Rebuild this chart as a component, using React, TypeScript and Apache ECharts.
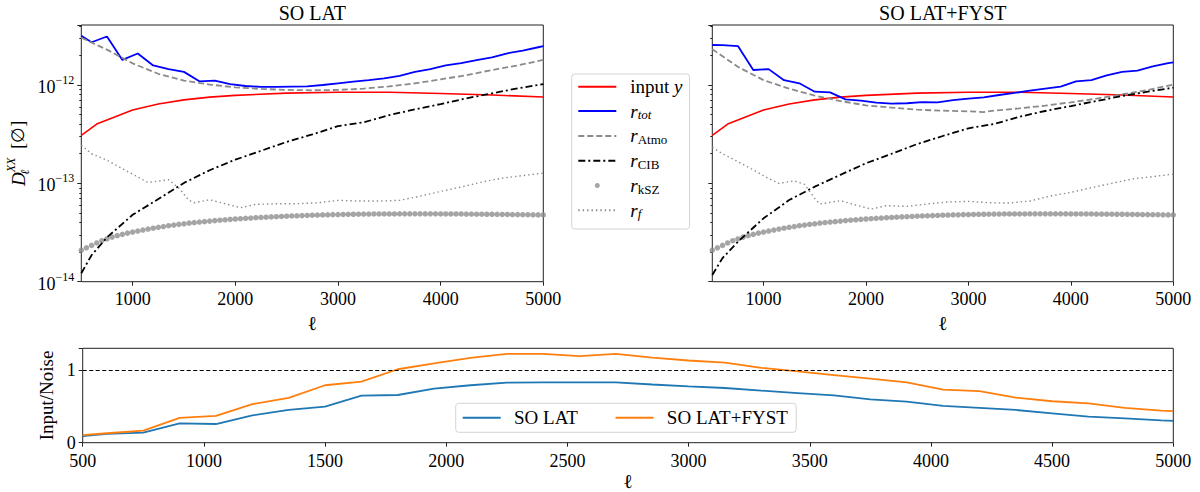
import React, { useEffect, useRef } from 'react';
import * as echarts from 'echarts';

const FONT = "'Liberation Serif', 'DejaVu Serif', serif";

// ---- top panels: D_ell^XX ----
const ellInput = [500, 650, 750, 1000, 1250, 1500, 1750, 2000, 2500, 3000, 3500, 4000, 4500, 5000];
const inputY = [3.08e-13, 4.01e-13, 4.40e-13, 5.56e-13, 6.41e-13, 7.06e-13, 7.52e-13, 7.85e-13, 8.26e-13, 8.45e-13, 8.45e-13, 8.20e-13, 7.91e-13, 7.55e-13];

// binned multipoles (also used by the Input/Noise panel)
const ellBins = [500, 600, 750, 900, 1050, 1200, 1350, 1500, 1650, 1800, 1950, 2100, 2250, 2400, 2550, 2700,
  2850, 3000, 3150, 3300, 3450, 3600, 3750, 3900, 4050, 4200, 4350, 4500, 4650, 4800, 4950, 5000];
const rTotLat = [3.16e-12, 2.72e-12, 3.11e-12, 1.80e-12, 2.09e-12, 1.58e-12, 1.45e-12, 1.36e-12, 1.09e-12, 1.11e-12,
  1.02e-12, 9.77e-13, 9.55e-13, 9.55e-13, 9.62e-13, 9.68e-13, 1.00e-12, 1.04e-12, 1.08e-12, 1.12e-12,
  1.17e-12, 1.24e-12, 1.36e-12, 1.45e-12, 1.58e-12, 1.67e-12, 1.79e-12, 1.91e-12, 2.10e-12, 2.24e-12, 2.42e-12, 2.48e-12];
const rTotFyst = [2.55e-12, 2.54e-12, 2.49e-12, 1.42e-12, 1.45e-12, 1.12e-12, 1.04e-12, 8.55e-13, 8.41e-13, 7.14e-13,
  6.92e-13, 6.61e-13, 6.46e-13, 6.52e-13, 6.71e-13, 6.67e-13, 7.03e-13, 7.26e-13, 7.50e-13, 7.91e-13,
  8.30e-13, 8.75e-13, 9.18e-13, 9.62e-13, 1.09e-12, 1.12e-12, 1.25e-12, 1.36e-12, 1.40e-12, 1.55e-12, 1.67e-12, 1.70e-12];

const ellAtmoLat = [500, 750, 1000, 1250, 1500, 1750, 2000, 2250, 2500, 2750, 3000, 3250, 3500, 3750, 4000, 4250, 4500, 4750, 5000];
const rAtmoLat = [3.02e-12, 2.29e-12, 1.66e-12, 1.30e-12, 1.11e-12, 1.01e-12, 9.46e-13, 9.12e-13, 8.91e-13, 8.83e-13,
  8.91e-13, 9.18e-13, 9.68e-13, 1.04e-12, 1.14e-12, 1.26e-12, 1.42e-12, 1.58e-12, 1.80e-12];
const ellAtmoFyst = [500, 750, 1000, 1250, 1500, 1750, 2000, 2250, 2500, 2750, 3000, 3150, 3250, 3500, 3750, 4000, 4250, 4500, 4750, 5000];
const rAtmoFyst = [2.31e-12, 1.53e-12, 1.12e-12, 9.18e-13, 7.80e-13, 6.87e-13, 6.21e-13, 5.89e-13, 5.61e-13, 5.48e-13,
  5.40e-13, 5.31e-13, 5.48e-13, 5.79e-13, 6.17e-13, 6.67e-13, 7.26e-13, 8.04e-13, 8.89e-13, 1.01e-12];

const ellCib = [500, 600, 750, 1000, 1250, 1500, 1750, 2000, 2250, 2500, 2750, 3000, 3250, 3500, 3750, 4000, 4250, 4500, 4750, 5000];
const rCibLat = [1.22e-14, 1.86e-14, 2.82e-14, 4.79e-14, 6.92e-14, 1.01e-13, 1.36e-13, 1.74e-13, 2.14e-13, 2.64e-13,
  3.14e-13, 3.82e-13, 4.17e-13, 4.94e-13, 5.65e-13, 6.40e-13, 7.31e-13, 8.22e-13, 9.25e-13, 1.02e-12];
const rCibFyst = [1.17e-14, 1.74e-14, 2.55e-14, 4.41e-14, 6.76e-14, 9.25e-14, 1.22e-13, 1.60e-13, 2.00e-13, 2.51e-13,
  3.03e-13, 3.63e-13, 4.01e-13, 4.76e-13, 5.44e-13, 6.11e-13, 6.87e-13, 7.73e-13, 8.55e-13, 9.40e-13];

const ellFLat = [500, 600, 750, 900, 1050, 1150, 1300, 1350, 1450, 1550, 1600, 1750, 1900, 2050, 2200, 2400, 2600,
  2800, 3000, 3200, 3400, 3600, 3800, 4000, 4200, 4400, 4600, 4800, 5000];
const rFLat = [2.44e-13, 2.00e-13, 1.72e-13, 1.41e-13, 1.16e-13, 1.02e-13, 1.07e-13, 1.09e-13, 8.95e-14, 6.71e-14,
  6.35e-14, 6.81e-14, 6.21e-14, 5.65e-14, 6.11e-14, 6.21e-14, 6.21e-14, 6.35e-14, 6.71e-14, 6.61e-14,
  6.61e-14, 6.71e-14, 7.41e-14, 8.28e-14, 9.18e-14, 1.03e-13, 1.13e-13, 1.20e-13, 1.27e-13];
const ellFFyst = [500, 600, 750, 900, 1050, 1150, 1300, 1400, 1500, 1550, 1650, 1750, 1900, 2050, 2200, 2400, 2600,
  2800, 3000, 3200, 3400, 3600, 3800, 4000, 4200, 4400, 4600, 4800, 5000];
const rFFyst = [2.32e-13, 2.00e-13, 1.66e-13, 1.37e-13, 1.12e-13, 1.00e-13, 1.06e-13, 9.77e-14, 7.03e-14, 6.17e-14,
  6.41e-14, 6.67e-14, 6.03e-14, 5.48e-14, 5.93e-14, 5.83e-14, 6.17e-14, 6.46e-14, 6.56e-14, 6.35e-14,
  6.31e-14, 6.61e-14, 7.43e-14, 8.09e-14, 9.04e-14, 1.00e-13, 1.11e-13, 1.17e-13, 1.24e-13];

// kSZ residual, one dot every 50 in ell, in units of 1e-14
const ellKsz = Array.from({ length: 91 }, (_, i) => 500 + 50 * i);
const rKsz = [
  2.09, 2.21, 2.34, 2.48, 2.61, 2.72, 2.84, 2.94, 3.03, 3.12,
  3.20, 3.27, 3.35, 3.43, 3.50, 3.57, 3.64, 3.71, 3.77, 3.83,
  3.88, 3.94, 3.99, 4.04, 4.08, 4.13, 4.18, 4.22, 4.26, 4.30,
  4.34, 4.37, 4.41, 4.44, 4.47, 4.50, 4.53, 4.56, 4.58, 4.61,
  4.63, 4.66, 4.68, 4.70, 4.72, 4.74, 4.76, 4.78, 4.79, 4.81,
  4.82, 4.83, 4.84, 4.85, 4.86, 4.87, 4.87, 4.88, 4.88, 4.89,
  4.89, 4.89, 4.90, 4.90, 4.90, 4.90, 4.90, 4.90, 4.90, 4.90,
  4.89, 4.89, 4.89, 4.88, 4.88, 4.87, 4.87, 4.86, 4.86, 4.85,
  4.85, 4.84, 4.83, 4.83, 4.82, 4.81, 4.80, 4.80, 4.79, 4.78, 4.78,
];

// ---- bottom panel: Input/Noise ----
const snrLat = [0.09, 0.12, 0.138, 0.267, 0.257, 0.376, 0.45, 0.495, 0.647, 0.656,
  0.743, 0.79, 0.826, 0.83, 0.83, 0.83, 0.80, 0.775, 0.752, 0.716,
  0.683, 0.65, 0.596, 0.564, 0.505, 0.48, 0.45, 0.404, 0.358, 0.335, 0.308, 0.30];
const snrFyst = [0.105, 0.13, 0.165, 0.34, 0.37, 0.53, 0.615, 0.79, 0.84, 1.01,
  1.09, 1.165, 1.22, 1.22, 1.19, 1.22, 1.17, 1.13, 1.10, 1.03,
  0.98, 0.93, 0.88, 0.83, 0.73, 0.71, 0.62, 0.57, 0.54, 0.48, 0.44, 0.435];

// ticks
const topTicks = [1000, 2000, 3000, 4000, 5000];
const decades = [-14, -13, -12];
const minorMantissas = [2, 3, 4, 5, 6, 7, 8, 9];
const LOG_MAX = -11.39;

const toLog = (ell: number[], v: number[], unit = 1) => ell.map((l, i) => [l, Math.log10(v[i] * unit)]);
const pairs = (ell: number[], v: number[]) => ell.map((l, i) => [l, v[i]]);

const minorTicks = decades
  .flatMap((d) => minorMantissas.map((m) => d + Math.log10(m)))
  .filter((v) => v < LOG_MAX);

const legendLabels: Record<string, string> = {
  'input y': '{g|}{t|input }{i|y}',
  r_tot: '{g|}{i|r}{s|tot}',
  r_Atmo: '{g|}{i|r}{sr|Atmo}',
  r_CIB: '{g|}{i|r}{sr|CIB}',
  r_kSZ: '{g|}{i|r}{sr|kSZ}',
  r_f: '{g|}{i|r}{s|f}',
};

// line entries hide the legend marker, the kSZ entry keeps its dot
const lineEntry = (name: string) => ({ name, itemStyle: { opacity: 0 } });

const App: React.FC = () => {
  const chartRef = useRef<HTMLDivElement>(null);

  useEffect(() => {
    if (!chartRef.current) return;
    const chart = echarts.init(chartRef.current, null, { renderer: 'svg' });

    const frame = { show: true, borderColor: '#222', borderWidth: 1, backgroundColor: 'transparent' };
    const tickStyle = { color: '#222', width: 1 };
    const label = { fontFamily: FONT, fontSize: 18, lineHeight: 16, color: '#000' };

    const topX = (gi: number) => ({
      type: 'value', gridIndex: gi, min: 500, max: 5000,
      name: 'ℓ', nameLocation: 'middle', nameGap: 25,
      nameTextStyle: { fontFamily: FONT, fontSize: 20, color: '#000' },
      axisLine: { show: false }, splitLine: { show: false },
      axisTick: { length: 4, customValues: topTicks, lineStyle: tickStyle },
      axisLabel: { ...label, margin: 9, customValues: topTicks, formatter: (v: number) => String(v) },
    });

    const yMajor = (gi: number, withLabels: boolean) => ({
      type: 'value', gridIndex: gi, min: -14, max: LOG_MAX, interval: 1, position: 'left',
      axisLine: { show: false }, splitLine: { show: false },
      axisTick: { length: 4, lineStyle: tickStyle },
      axisLabel: {
        show: withLabels, margin: 7,
        formatter: (v: number) => (Number.isInteger(v) ? `{b|10}{e|−${-v}}` : ''),
        rich: {
          b: { fontFamily: FONT, fontSize: 18, lineHeight: 22, verticalAlign: 'bottom', color: '#000' },
          e: { fontFamily: FONT, fontSize: 12, lineHeight: 12, verticalAlign: 'top', color: '#000' },
        },
      },
      name: withLabels ? '{i|D}{sb|ℓ}{sp|XX}{r|  [∅]}' : '',
      nameLocation: 'middle', nameRotate: 90, nameGap: 50,
      nameTextStyle: {
        fontFamily: FONT, fontSize: 18, color: '#000',
        rich: {
          i: { fontFamily: FONT, fontSize: 19, fontStyle: 'italic', lineHeight: 26, color: '#000' },
          sb: { fontFamily: FONT, fontSize: 12, fontStyle: 'italic', lineHeight: 12, verticalAlign: 'bottom', width: 0.01, color: '#000' },
          sp: { fontFamily: FONT, fontSize: 12, fontStyle: 'italic', lineHeight: 12, verticalAlign: 'top', color: '#000' },
          r: { fontFamily: FONT, fontSize: 18, lineHeight: 26, color: '#000' },
        },
      },
    });

    const yMinor = (gi: number) => ({
      type: 'value', gridIndex: gi, min: -14, max: LOG_MAX, position: 'left',
      axisLine: { show: false }, splitLine: { show: false }, axisLabel: { show: false },
      axisTick: { length: 2, customValues: minorTicks, lineStyle: tickStyle },
    });

    const lineSeries = (name: string, xi: number, yi: number, data: number[][], color: string, width: number, type: any = 'solid') => ({
      name, type: 'line', xAxisIndex: xi, yAxisIndex: yi, data, symbol: 'none', showSymbol: false,
      lineStyle: { color, width, type }, itemStyle: { color },
    });

    const panelSeries = (xi: number, yi: number, tot: number[], ellAtmo: number[], atmo: number[], cib: number[], ellF: number[], f: number[]) => [
      lineSeries('input y', xi, yi, toLog(ellInput, inputY), '#ff0000', 1.6),
      lineSeries('r_tot', xi, yi, toLog(ellBins, tot), '#0000ff', 1.8),
      lineSeries('r_Atmo', xi, yi, toLog(ellAtmo, atmo), '#8a8a8a', 1.8, [6, 3]),
      lineSeries('r_CIB', xi, yi, toLog(ellCib, cib), '#000000', 1.8, [7, 3, 2, 3]),
      {
        name: 'r_kSZ', type: 'scatter', xAxisIndex: xi, yAxisIndex: yi,
        data: toLog(ellKsz, rKsz, 1e-14), symbol: 'circle', symbolSize: 5.5,
        itemStyle: { color: '#8f8f8f' },
      },
      lineSeries('r_f', xi, yi, toLog(ellF, f), '#8a8a8a', 1.4, [1.4, 3]),
    ];

    const option = {
      animation: false,
      backgroundColor: '#fff',
      textStyle: { fontFamily: FONT },
      grid: [
        { left: 81.3, top: 25, width: 462, height: 256.7, ...frame },
        { left: 712.3, top: 25, width: 461, height: 256.7, ...frame },
        { left: 82.7, top: 348.3, width: 1090.6, height: 94.4, ...frame },
      ],
      graphic: [
        { type: 'text', x: 312.3, y: 13, style: { text: 'SO LAT', fontFamily: FONT, fontSize: 20, fill: '#000', align: 'center', verticalAlign: 'middle' } },
        { type: 'text', x: 942.8, y: 13, style: { text: 'SO LAT+FYST', fontFamily: FONT, fontSize: 20, fill: '#000', align: 'center', verticalAlign: 'middle' } },
      ],
      xAxis: [
        topX(0),
        topX(1),
        {
          type: 'value', gridIndex: 2, min: 500, max: 5000, interval: 500,
          name: 'ℓ', nameLocation: 'middle', nameGap: 26,
          nameTextStyle: { fontFamily: FONT, fontSize: 20, color: '#000' },
          axisLine: { show: false }, splitLine: { show: false },
          axisTick: { length: 4, lineStyle: tickStyle },
          axisLabel: { ...label, margin: 10, formatter: (v: number) => String(v) },
        },
      ],
      yAxis: [
        yMajor(0, true),
        yMinor(0),
        yMajor(1, false),
        yMinor(1),
        {
          type: 'value', gridIndex: 2, min: 0, max: 1.298, interval: 1,
          name: 'Input/Noise', nameLocation: 'middle', nameRotate: 90, nameGap: 24,
          nameTextStyle: { fontFamily: FONT, fontSize: 19, color: '#000' },
          axisLine: { show: false }, splitLine: { show: false },
          axisTick: { length: 4, lineStyle: tickStyle },
          axisLabel: { ...label, lineHeight: 12, margin: 7, formatter: (v: number) => (Number.isInteger(v) ? String(v) : '') },
        },
      ],
      legend: [
        {
          orient: 'vertical', left: 571.7, top: 74, padding: [3.3, 7, 8.7, 5.6],
          itemGap: 5.3, itemWidth: 38, itemHeight: 5, selectedMode: false,
          backgroundColor: '#fff', borderColor: '#d4d4d4', borderWidth: 1, borderRadius: 3,
          data: [lineEntry('input y'), lineEntry('r_tot'), lineEntry('r_Atmo'), lineEntry('r_CIB'), { name: 'r_kSZ' }, lineEntry('r_f')],
          formatter: (name: string) => legendLabels[name],
          textStyle: {
            fontFamily: FONT, fontSize: 19, color: '#000',
            rich: {
              g: { width: 9 },
              t: { fontFamily: FONT, fontSize: 19, lineHeight: 20, color: '#000' },
              i: { fontFamily: FONT, fontSize: 19, fontStyle: 'italic', lineHeight: 20, color: '#000' },
              s: { fontFamily: FONT, fontSize: 13, fontStyle: 'italic', lineHeight: 12, verticalAlign: 'bottom', color: '#000' },
              sr: { fontFamily: FONT, fontSize: 13, lineHeight: 12, verticalAlign: 'bottom', color: '#000' },
            },
          },
        },
        {
          orient: 'horizontal', left: 455.7, top: 403.3, padding: [5, 8.3, 5, 6],
          itemGap: 36.7, itemWidth: 38, itemHeight: 5, selectedMode: false,
          backgroundColor: '#fff', borderColor: '#d4d4d4', borderWidth: 1, borderRadius: 3,
          data: [lineEntry('SO LAT'), lineEntry('SO LAT+FYST')],
          formatter: (name: string) => `{g|}{t|${name}}`,
          textStyle: {
            fontFamily: FONT, fontSize: 19, color: '#000',
            rich: {
              g: { width: 8.3 },
              t: { fontFamily: FONT, fontSize: 19, lineHeight: 20, color: '#000' },
            },
          },
        },
      ],
      series: [
        ...panelSeries(0, 0, rTotLat, ellAtmoLat, rAtmoLat, rCibLat, ellFLat, rFLat),
        ...panelSeries(1, 2, rTotFyst, ellAtmoFyst, rAtmoFyst, rCibFyst, ellFFyst, rFFyst),
        {
          ...lineSeries('SO LAT', 2, 4, pairs(ellBins, snrLat), '#1f77b4', 1.8),
          markLine: {
            silent: true, symbol: ['none', 'none'], label: { show: false },
            lineStyle: { color: '#000', type: [4, 2.5], width: 1.2 },
            data: [{ yAxis: 1 }],
          },
        },
        lineSeries('SO LAT+FYST', 2, 4, pairs(ellBins, snrFyst), '#ff7f0e', 1.8),
      ],
    };

    chart.setOption(option as any);

    return () => {
      chart.dispose();
    };
  }, []);

  return <div ref={chartRef} style={{ position: 'absolute', left: 0, top: 0, width: '1200px', height: '492px' }} />;
};

export default App;
